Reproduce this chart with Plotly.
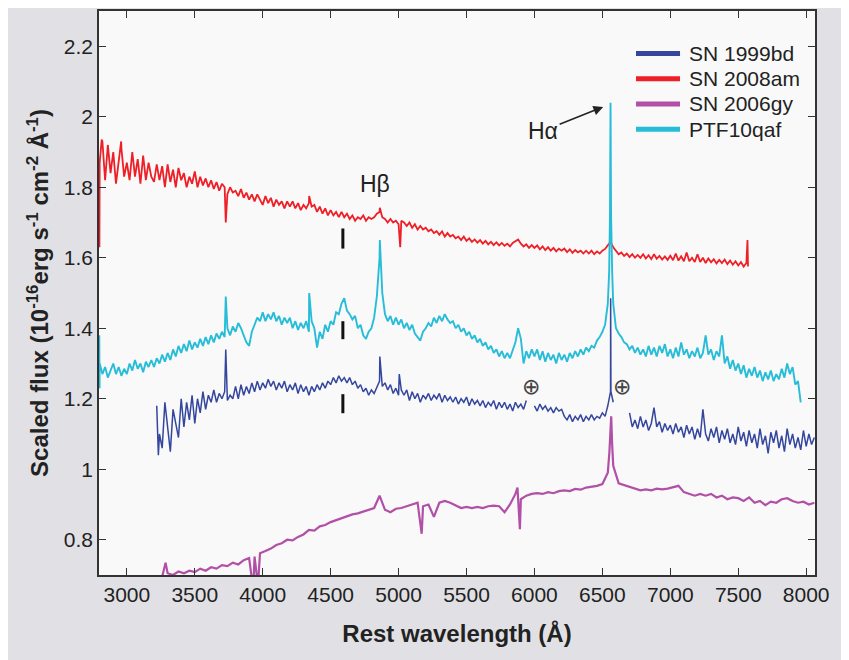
import numpy as np
import plotly.graph_objects as go

# ---------------- data ----------------
STEP_FINE = 20    # Angstrom sampling of the noisy spectra
STEP_COARSE = 40  # Angstrom sampling of the smooth SN 2006gy spectrum

# SN 2008am (red), 2800 .. 7560 A
red_start = 2800
red_flux = [
    1.87, 1.93, 1.82, 1.92, 1.84, 1.90, 1.81, 1.88, 1.91, 1.83,
    1.87, 1.82, 1.90, 1.83, 1.88, 1.81, 1.89, 1.82, 1.87, 1.83,
    1.815, 1.865, 1.82, 1.86, 1.80, 1.865, 1.815, 1.85, 1.80, 1.855,
    1.82, 1.84, 1.80, 1.83, 1.81, 1.845, 1.80, 1.83, 1.805, 1.825,
    1.80, 1.82, 1.795, 1.815, 1.79, 1.81, 1.80, 1.78, 1.80, 1.785,
    1.79, 1.775, 1.795, 1.77, 1.785, 1.765, 1.78, 1.76, 1.78, 1.765,
    1.75, 1.775, 1.755, 1.77, 1.745, 1.765, 1.75, 1.76, 1.74, 1.76,
    1.745, 1.76, 1.74, 1.755, 1.735, 1.75, 1.74, 1.755, 1.745, 1.75,
    1.73, 1.745, 1.725, 1.74, 1.72, 1.735, 1.72, 1.73, 1.715, 1.73,
    1.715, 1.725, 1.71, 1.72, 1.705, 1.715, 1.71, 1.72, 1.705, 1.715,
    1.71, 1.715, 1.725, 1.73, 1.715, 1.71, 1.70, 1.71, 1.70, 1.705,
    1.695, 1.705, 1.70, 1.69, 1.70, 1.685, 1.695, 1.68, 1.69, 1.68,
    1.685, 1.675, 1.68, 1.67, 1.675, 1.665, 1.675, 1.66, 1.67, 1.66,
    1.665, 1.655, 1.66, 1.65, 1.66, 1.648, 1.655, 1.645, 1.652, 1.643,
    1.65, 1.64, 1.648, 1.638, 1.645, 1.636, 1.644, 1.635, 1.642, 1.634,
    1.64, 1.632, 1.642, 1.648, 1.652, 1.64, 1.632, 1.638, 1.628, 1.636,
    1.628, 1.635, 1.624, 1.632, 1.622, 1.63, 1.62, 1.628, 1.618, 1.626,
    1.62, 1.626, 1.616, 1.624, 1.614, 1.622, 1.615, 1.62, 1.612, 1.62,
    1.612, 1.62, 1.61, 1.618, 1.612, 1.62, 1.625, 1.635, 1.645, 1.63,
    1.62, 1.61, 1.615, 1.605, 1.612, 1.602, 1.61, 1.60, 1.608, 1.60,
    1.61, 1.598, 1.607, 1.596, 1.61, 1.597, 1.605, 1.595, 1.604, 1.594,
    1.606, 1.593, 1.612, 1.592, 1.604, 1.59, 1.615, 1.59, 1.60, 1.588,
    1.61, 1.588, 1.60, 1.585, 1.598, 1.587, 1.596, 1.584, 1.594, 1.585,
    1.595, 1.582, 1.592, 1.58, 1.59, 1.578, 1.588, 1.575, 1.585,
]
red_feat_wave = [2798, 2815, 2958, 3728, 4342, 4862, 5012, 7568, 7572]
red_feat_flux = [1.63, 1.935, 1.93, 1.70, 1.775, 1.742, 1.63, 1.65, 1.575]

# PTF10qaf (cyan), 2800 .. 7960 A
cyan_start = 2800
cyan_flux = [
    1.30, 1.27, 1.29, 1.26, 1.28, 1.30, 1.27, 1.29, 1.265, 1.285,
    1.27, 1.30, 1.28, 1.31, 1.285, 1.30, 1.275, 1.305, 1.29, 1.31,
    1.29, 1.315, 1.30, 1.325, 1.305, 1.33, 1.31, 1.34, 1.32, 1.35,
    1.33, 1.355, 1.335, 1.365, 1.34, 1.36, 1.345, 1.37, 1.35, 1.375,
    1.355, 1.38, 1.36, 1.385, 1.37, 1.39, 1.375, 1.40, 1.38, 1.405,
    1.39, 1.415, 1.40, 1.38, 1.36, 1.35, 1.39, 1.41, 1.43, 1.42,
    1.445, 1.42, 1.44, 1.425, 1.445, 1.42, 1.435, 1.41, 1.43, 1.415,
    1.43, 1.40, 1.42, 1.395, 1.415, 1.40, 1.42, 1.39, 1.42, 1.40,
    1.345, 1.39, 1.37, 1.41, 1.39, 1.42, 1.41, 1.445, 1.44, 1.47,
    1.485, 1.45, 1.44, 1.425, 1.435, 1.40, 1.41, 1.38, 1.37, 1.39,
    1.40, 1.43, 1.49, 1.60, 1.50, 1.44, 1.42, 1.435, 1.41, 1.43,
    1.41, 1.425, 1.40, 1.415, 1.395, 1.41, 1.385, 1.375, 1.365, 1.39,
    1.40, 1.415, 1.405, 1.43, 1.415, 1.435, 1.42, 1.44, 1.425, 1.415,
    1.42, 1.40, 1.41, 1.39, 1.40, 1.38, 1.39, 1.37, 1.38, 1.36,
    1.37, 1.35, 1.36, 1.34, 1.35, 1.33, 1.34, 1.32, 1.335, 1.315,
    1.33, 1.315, 1.34, 1.36, 1.40, 1.37, 1.30, 1.335, 1.315, 1.34,
    1.32, 1.34, 1.31, 1.335, 1.305, 1.33, 1.31, 1.325, 1.30, 1.33,
    1.31, 1.325, 1.305, 1.33, 1.315, 1.335, 1.32, 1.34, 1.325, 1.345,
    1.335, 1.35, 1.345, 1.365, 1.375, 1.39, 1.41, 1.47, 2.04, 1.47,
    1.40, 1.385, 1.375, 1.36, 1.355, 1.34, 1.35, 1.33, 1.345, 1.325,
    1.34, 1.32, 1.35, 1.325, 1.345, 1.32, 1.35, 1.33, 1.355, 1.32,
    1.34, 1.315, 1.345, 1.32, 1.36, 1.325, 1.34, 1.315, 1.335, 1.32,
    1.345, 1.315, 1.33, 1.38, 1.325, 1.34, 1.31, 1.335, 1.32, 1.38,
    1.30, 1.32, 1.285, 1.31, 1.28, 1.30, 1.27, 1.295, 1.26, 1.285,
    1.265, 1.29, 1.26, 1.28, 1.25, 1.275, 1.255, 1.28, 1.25, 1.27,
    1.255, 1.285, 1.26, 1.30, 1.27, 1.29, 1.24, 1.25, 1.19,
]
cyan_feat_wave = [2797, 2799, 3728, 4342, 4862, 6550, 6556, 6564, 6572]
cyan_feat_flux = [1.38, 1.23, 1.49, 1.50, 1.65, 1.56, 1.72, 1.72, 1.56]

# SN 1999bd (dark blue), 3220 .. 8060 A; None = gap in the spectrum
blue_start = 3220
blue_flux = [
    1.18, 1.10, 1.06, 1.19, 1.12, 1.05, 1.17, 1.13, 1.09, 1.20,
    1.12, 1.19, 1.14, 1.21, 1.13, 1.20, 1.16, 1.22, 1.17, 1.21,
    1.19, 1.225, 1.19, 1.215, 1.20, 1.22, 1.195, 1.21, 1.20, 1.235,
    1.20, 1.24, 1.21, 1.235, 1.215, 1.245, 1.22, 1.25, 1.225, 1.245,
    1.23, 1.255, 1.235, 1.25, 1.225, 1.245, 1.23, 1.25, 1.22, 1.24,
    1.225, 1.245, 1.215, 1.24, 1.22, 1.235, 1.21, 1.235, 1.22, 1.24,
    1.225, 1.245, 1.23, 1.25, 1.24, 1.26, 1.245, 1.265, 1.25, 1.26,
    1.245, 1.26, 1.24, 1.25, 1.23, 1.24, 1.22, 1.23, 1.21, 1.225,
    1.215, 1.235, 1.25, 1.235, 1.245, 1.225, 1.24, 1.215, 1.23, 1.21,
    1.225, 1.21, 1.225, 1.195, 1.22, 1.20, 1.215, 1.19, 1.21, 1.20,
    1.215, 1.195, 1.21, 1.20, 1.215, 1.19, 1.21, 1.195, 1.205, 1.19,
    1.205, 1.185, 1.20, 1.19, 1.205, 1.18, 1.20, 1.185, 1.195, 1.18,
    1.195, 1.175, 1.19, 1.18, 1.195, 1.17, 1.19, 1.175, 1.19, 1.17,
    1.185, 1.165, 1.19, 1.175, 1.185, 1.17, 1.195, None, None, 1.18,
    1.165, 1.185, 1.17, 1.18, 1.165, 1.175, 1.16, 1.175, 1.165, 1.17,
    1.15, 1.14, 1.155, 1.135, 1.15, 1.14, 1.155, 1.135, 1.15, 1.14,
    1.155, 1.14, 1.15, 1.145, 1.16, 1.15, 1.18, 1.22, 1.19, None,
    None, None, None, None, 1.16, 1.12, 1.14, 1.115, 1.15, 1.12,
    1.14, 1.11, 1.13, 1.175, 1.12, 1.135, 1.105, 1.13, 1.11, 1.125,
    1.10, 1.13, 1.105, 1.12, 1.09, 1.125, 1.10, 1.12, 1.085, 1.115,
    1.09, 1.17, 1.10, 1.08, 1.115, 1.09, 1.12, 1.075, 1.11, 1.085,
    1.115, 1.075, 1.10, 1.07, 1.12, 1.08, 1.105, 1.065, 1.11, 1.075,
    1.10, 1.06, 1.115, 1.07, 1.095, 1.045, 1.105, 1.075, 1.11, 1.06,
    1.095, 1.05, 1.115, 1.07, 1.10, 1.06, 1.09, 1.055, 1.11, 1.065,
    1.10, 1.07, 1.09,
]
blue_feat_wave = [3232, 3728, 4862, 5005, 6561, 6563]
blue_feat_flux = [1.04, 1.34, 1.32, 1.27, 1.485, 1.22]

# SN 2006gy (magenta), 3260 .. 8060 A
mag_start = 3260
mag_flux = [
    0.695, 0.705, 0.70, 0.71, 0.705, 0.712, 0.708, 0.718, 0.712, 0.722,
    0.718, 0.728, 0.725, 0.735, 0.73, 0.742, 0.748, 0.752, 0.762, 0.768,
    0.775, 0.785, 0.79, 0.80, 0.798, 0.808, 0.815, 0.828, 0.826, 0.838,
    0.842, 0.85, 0.856, 0.862, 0.868, 0.872, 0.875, 0.88, 0.885, 0.89,
    0.925, 0.885, 0.878, 0.888, 0.89, 0.895, 0.90, 0.905, 0.895, 0.90,
    0.865, 0.905, 0.91, 0.905, 0.898, 0.89, 0.893, 0.89, 0.893, 0.89,
    0.895, 0.897, 0.895, 0.878, 0.90, 0.93, 0.915, 0.925, 0.93, 0.932,
    0.93, 0.935, 0.932, 0.938, 0.94, 0.938, 0.944, 0.942, 0.948, 0.95,
    0.953, 0.958, 0.99, 1.01, 0.96, 0.955, 0.95, 0.945, 0.94, 0.943,
    0.94, 0.945, 0.943, 0.945, 0.948, 0.953, 0.935, 0.93, 0.925, 0.93,
    0.925, 0.93, 0.92, 0.925, 0.915, 0.92, 0.918, 0.91, 0.92, 0.905,
    0.91, 0.898, 0.908, 0.905, 0.915, 0.918, 0.91, 0.905, 0.908, 0.90,
    0.905,
]
mag_feat_wave = [3285, 3930, 3965, 5170, 5875, 5893, 6552, 6560, 6565, 6572]
mag_feat_flux = [0.735, 0.66, 0.67, 0.817, 0.948, 0.83, 1.05, 1.13, 1.15, 1.07]

# line-position markers (vertical bars)
marker_wave = 4590
marker_ranges = [(1.626, 1.683), (1.369, 1.420), (1.159, 1.213)]

series_names = ["SN 1999bd", "SN 2008am", "SN 2006gy", "PTF10qaf"]
series_colors = {"SN 1999bd": "#34479d", "SN 2008am": "#ee1f26",
                 "SN 2006gy": "#b24fa6", "PTF10qaf": "#27bdd8"}
series_widths = {"SN 1999bd": 1.5, "SN 2008am": 1.8,
                 "SN 2006gy": 2.2, "PTF10qaf": 1.9}

x_ticks = [3000, 3500, 4000, 4500, 5000, 5500, 6000, 6500, 7000, 7500, 8000]
y_ticks = [0.8, 1.0, 1.2, 1.4, 1.6, 1.8, 2.0, 2.2]
y_ticktext = ["0.8", "1", "1.2", "1.4", "1.6", "1.8", "2", "2.2"]


def spectrum(start, step, flux, fw, ff):
    wave = list(start + step * np.arange(len(flux)))
    pts = sorted(zip(wave + fw, flux + ff), key=lambda p: p[0])
    return [p[0] for p in pts], [p[1] for p in pts]


spectra = {
    "SN 2008am": spectrum(red_start, STEP_FINE, red_flux, red_feat_wave, red_feat_flux),
    "SN 2006gy": spectrum(mag_start, STEP_COARSE, mag_flux, mag_feat_wave, mag_feat_flux),
    "PTF10qaf": spectrum(cyan_start, STEP_FINE, cyan_flux, cyan_feat_wave, cyan_feat_flux),
    "SN 1999bd": spectrum(blue_start, STEP_FINE, blue_flux, blue_feat_wave, blue_feat_flux),
}

FONT = "Liberation Sans, Arial, Helvetica, sans-serif"
TXT = "#222222"
fig = go.Figure()

for name in ["SN 2008am", "SN 2006gy", "PTF10qaf", "SN 1999bd"]:
    w, f = spectra[name]
    fig.add_trace(go.Scatter(x=w, y=f, mode="lines", name=name, showlegend=False,
                             line=dict(color=series_colors[name], width=series_widths[name]),
                             connectgaps=False, hoverinfo="skip"))

shapes = []
for lo, hi in marker_ranges:
    shapes.append(dict(type="line", xref="x", yref="y", x0=marker_wave, x1=marker_wave,
                       y0=lo, y1=hi, line=dict(color="#111111", width=3)))

annotations = [
    dict(x=4830, y=1.81, xref="x", yref="y", text="Hβ", showarrow=False,
         font=dict(size=23, color=TXT, family=FONT)),
    dict(x=6506, y=2.028, xref="x", yref="y", ax=6064, ay=1.96, axref="x", ayref="y",
         text="Hα", showarrow=True, arrowhead=2, arrowsize=1.3, arrowwidth=1.5,
         arrowcolor=TXT, font=dict(size=23, color=TXT, family=FONT)),
    dict(x=5976, y=1.235, xref="x", yref="y", text="⊕", showarrow=False,
         font=dict(size=22, color="#444444", family="DejaVu Sans")),
    dict(x=6646, y=1.235, xref="x", yref="y", text="⊕", showarrow=False,
         font=dict(size=22, color="#444444", family="DejaVu Sans")),
]

# hand-placed legend (paper coordinates)
LEG_X0, LEG_X1, LEG_TX, LEG_Y0, LEG_DY = 0.750, 0.8115, 0.8212, 0.9246, 0.0447
for i, name in enumerate(series_names):
    yy = LEG_Y0 - i * LEG_DY
    shapes.append(dict(type="line", xref="paper", yref="paper", x0=LEG_X0, x1=LEG_X1,
                       y0=yy, y1=yy, line=dict(color=series_colors[name], width=5)))
    annotations.append(dict(x=LEG_TX, y=yy, xref="paper", yref="paper", text=name,
                            showarrow=False, xanchor="left", yanchor="middle",
                            font=dict(size=21, color=TXT, family=FONT)))

axis_common = dict(showline=True, linecolor="#333333", linewidth=1.5, mirror="ticks",
                   ticks="inside", ticklen=7, tickwidth=1.3, tickcolor="#333333",
                   showgrid=False, zeroline=False,
                   tickfont=dict(size=21, color=TXT, family=FONT))

fig.update_layout(
    width=841, height=652,
    margin=dict(l=91, r=34, t=1, b=85),
    paper_bgcolor="#e1e1e5", plot_bgcolor="#f9f9f9",
    font=dict(family=FONT, color=TXT),
    showlegend=False,
    xaxis=dict(range=[2795, 8065], tickvals=x_ticks,
               title=dict(text="Rest wavelength (Å)", standoff=20,
                          font=dict(size=24, weight="bold", color=TXT, family=FONT)),
               **axis_common),
    yaxis=dict(range=[0.7, 2.3], tickvals=y_ticks, ticktext=y_ticktext,
               title=dict(text="Scaled flux (10<sup>-16</sup>erg s<sup>-1</sup> cm<sup>-2</sup> Å<sup>-1</sup>)",
                          standoff=8,
                          font=dict(size=24, weight="bold", color=TXT, family=FONT)),
               **axis_common),
    shapes=shapes, annotations=annotations,
)

fig.write_html("out.html")
